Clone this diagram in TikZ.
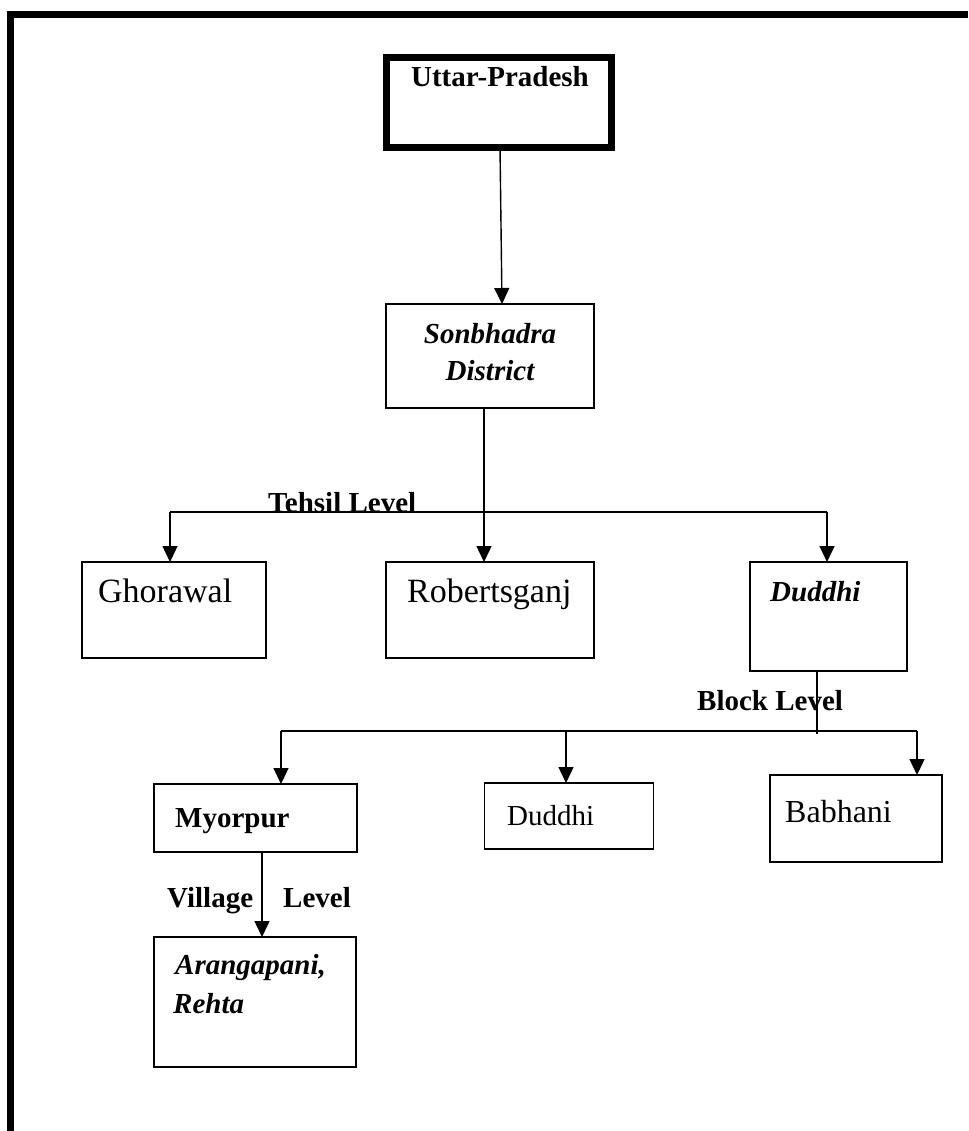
\documentclass[tikz,border=0pt]{standalone}
\usepackage{fontspec}
\setmainfont{Liberation Serif}
\usetikzlibrary{arrows.meta}
\begin{document}
\begin{tikzpicture}[x=1pt,y=-1pt,
  box/.style={draw, line width=1.5pt, inner sep=0pt, outer sep=0pt},
  conn/.style={line width=1.4pt},
  arr/.style={conn, -{Triangle[length=16pt,width=15pt]}},
  txt/.style={anchor=base west, inner sep=0pt},
  bf/.style={font=\fontsize{29}{34}\selectfont\bfseries},
  bi/.style={font=\fontsize{29}{34}\selectfont\bfseries\itshape},
  rm/.style={font=\fontsize{34}{40}\selectfont}]
\useasboundingbox (0,0) rectangle (968,1131);
\fill[white] (0,0) rectangle (968,1131);

% page frame (top and left rules)
\draw[line width=7pt] (10.5,1131) -- (10.5,14.5) -- (968,14.5);

% boxes
\node[box, line width=7pt, minimum width=225pt, minimum height=90pt] (up) at (499,102.5) {};
\node[box, minimum width=208pt, minimum height=104pt] (sd) at (490,356) {};
\node[box, minimum width=184pt, minimum height=96pt] (gh) at (174,610) {};
\node[box, minimum width=208pt, minimum height=96pt] (rb) at (490,610) {};
\node[box, minimum width=157pt, minimum height=109pt] (dh) at (828.5,616.5) {};
\node[box, minimum width=203pt, minimum height=68pt] (my) at (255.5,818) {};
\node[box, minimum width=169pt, minimum height=66pt] (dd) at (569,816) {};
\node[box, minimum width=172pt, minimum height=87pt] (bb) at (856,818.5) {};
\node[box, minimum width=202pt, minimum height=130pt] (ar) at (255,1002) {};

% box texts
\node[bf, anchor=base, inner sep=0pt] (tup) at (500,87) {Uttar-Pradesh};
\node[bi, anchor=base, inner sep=0pt] (tsd1) at (490,343) {Sonbhadra};
\node[bi, anchor=base, inner sep=0pt] (tsd2) at (490,380) {District};
\node[rm, txt] (tgh) at (98,602) {Ghorawal};
\node[rm, txt] (trb) at (407,602) {Robertsganj};
\node[bi, txt] (tdh) at (770,601) {Duddhi};
\node[bf, txt] (tmy) at (175,827) {Myorpur};
\node[txt, font=\fontsize{29}{34}\selectfont] (tdd) at (507,825) {Duddhi};
\node[txt, font=\fontsize{32}{38}\selectfont] (tbb) at (785,822) {Babhani};
\node[bi, txt] (tar1) at (175,974) {Arangapani,};
\node[bi, txt] (tar2) at (173,1013) {Rehta};

% level labels
\node[bf, txt] (ltehsil) at (268,512) {Tehsil Level};
\node[bf, txt] (lblock) at (697,710) {Block Level};
\node[bf, txt] (lvil1) at (167,907) {Village};
\node[bf, txt] (lvil2) at (283,907) {Level};

% state to district
\draw[arr] ([xshift=1pt]up.south) -- ([xshift=12pt]sd.north);

% tehsil level
\coordinate (tL) at (170,512);
\coordinate (tR) at (827,512);
\draw[conn] (tL) -- (tR);
\draw[arr] (tL) -- (tL |- gh.north);
\draw[arr] (tR) -- (tR |- dh.north);
\draw[arr] ([xshift=-6pt]sd.south) -- ([xshift=-6pt]rb.north);

% block level
\coordinate (bL) at (281,731);
\coordinate (bM) at (566,731);
\coordinate (bR) at (917,731);
\coordinate (bJ) at (817,734);
\draw[conn] (dh.south -| bJ) -- (bJ);
\draw[conn] (bL) -- (bR);
\draw[arr] (bL) -- (bL |- my.north);
\draw[arr] (bM) -- (bM |- dd.north);
\draw[arr] (bR) -- (bR |- bb.north);

% village level
\coordinate (vx) at (262,0);
\draw[arr] (my.south -| vx) -- (ar.north -| vx);
\end{tikzpicture}
\end{document}
